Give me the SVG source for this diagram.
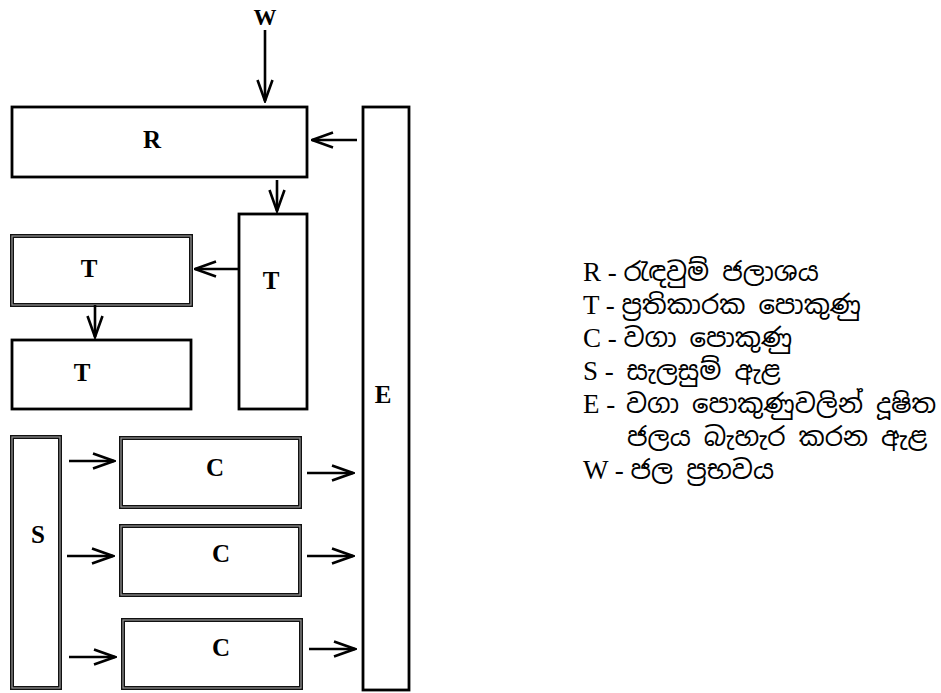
<svg xmlns="http://www.w3.org/2000/svg" width="941" height="693" viewBox="0 0 941 693">
<style>
.box{fill:#fff;stroke:#000;stroke-width:2.8}
.dbl{fill:#fff;stroke:#111;stroke-width:4}
.dbl-in{fill:none;stroke:#999;stroke-width:1.2}
.lbl{font-family:"Liberation Serif","Times New Roman",serif;font-weight:bold;font-size:25px;text-anchor:middle;fill:#000}
.leg{font-family:"Liberation Serif","Noto Sans Sinhala","Iskoola Pota","Noto Serif Sinhala",serif;font-size:27px;fill:#000}
.si{font-family:"Noto Sans Sinhala","Noto Serif Sinhala","Iskoola Pota","Liberation Serif",sans-serif;font-size:26px}
.con line{stroke:#000;stroke-width:2.6;fill:none;marker-end:url(#ah)}
</style>
<defs>
<marker id="ah" viewBox="0 0 24 18" refX="22.5" refY="9" markerWidth="24" markerHeight="18" markerUnits="userSpaceOnUse" orient="auto">
<path d="M1.5,1.5 L22.5,9 L1.5,16.5" fill="none" stroke="#000" stroke-width="2.6"/>
</marker>
</defs>

<g id="W"><text class="lbl" x="265" y="25" style="font-size:23px">W</text></g>

<g id="R"><rect class="box" x="12" y="107" width="295" height="70"/><text class="lbl" x="152" y="148">R</text></g>

<g id="E"><rect class="box" x="363" y="107" width="46" height="583"/><text class="lbl" x="383" y="403">E</text></g>

<g id="T1"><rect class="box" x="239" y="214" width="68" height="195"/><text class="lbl" x="271" y="289">T</text></g>

<g id="T2"><rect class="dbl" x="12" y="236" width="179" height="69"/><rect class="dbl-in" x="12" y="236" width="179" height="69"/><text class="lbl" x="89" y="277">T</text></g>

<g id="T3"><rect class="box" x="12" y="340" width="179" height="69"/><text class="lbl" x="82" y="381">T</text></g>

<g id="S"><rect class="dbl" x="12" y="437" width="48" height="251"/><rect class="dbl-in" x="12" y="437" width="48" height="251"/><text class="lbl" x="38" y="543">S</text></g>

<g id="C1"><rect class="dbl" x="121" y="438" width="179" height="69"/><rect class="dbl-in" x="121" y="438" width="179" height="69"/><text class="lbl" x="215" y="476">C</text></g>

<g id="C2"><rect class="dbl" x="121" y="526" width="179" height="69"/><rect class="dbl-in" x="121" y="526" width="179" height="69"/><text class="lbl" x="221" y="562">C</text></g>

<g id="C3"><rect class="dbl" x="123" y="620" width="178" height="68"/><rect class="dbl-in" x="123" y="620" width="178" height="68"/><text class="lbl" x="221" y="656">C</text></g>

<g id="connectors" class="con">
<line x1="265" y1="30" x2="265" y2="101"/>
<line x1="357" y1="140" x2="312" y2="140"/>
<line x1="277" y1="180" x2="277" y2="211"/>
<line x1="239" y1="269" x2="195" y2="269"/>
<line x1="95" y1="305" x2="95" y2="337"/>
<line x1="69" y1="461" x2="114" y2="461"/>
<line x1="67" y1="556" x2="113" y2="556"/>
<line x1="69" y1="657" x2="115" y2="657"/>
<line x1="307" y1="473" x2="353" y2="473"/>
<line x1="307" y1="556" x2="353" y2="556"/>
<line x1="309" y1="649" x2="355" y2="649"/>
</g>

<g id="legend" class="leg">
<text x="583" y="281">R - <tspan class="si">රැඳවුම් ජලාශය</tspan></text>
<text x="583" y="314">T - <tspan class="si">ප්‍රතිකාරක පොකුණු</tspan></text>
<text x="583" y="347">C - <tspan class="si">වගා පොකුණු</tspan></text>
<text x="583" y="380">S - <tspan class="si" dx="6">සැලසුම් ඇළ</tspan></text>
<text x="583" y="413">E - <tspan class="si" dx="4">වගා පොකුණුවලින් දූෂිත</tspan></text>
<text x="627" y="446"><tspan class="si">ජලය බැහැර කරන ඇළ</tspan></text>
<text x="583" y="479">W - <tspan class="si">ජල ප්‍රභවය</tspan></text>
</g>
</svg>
